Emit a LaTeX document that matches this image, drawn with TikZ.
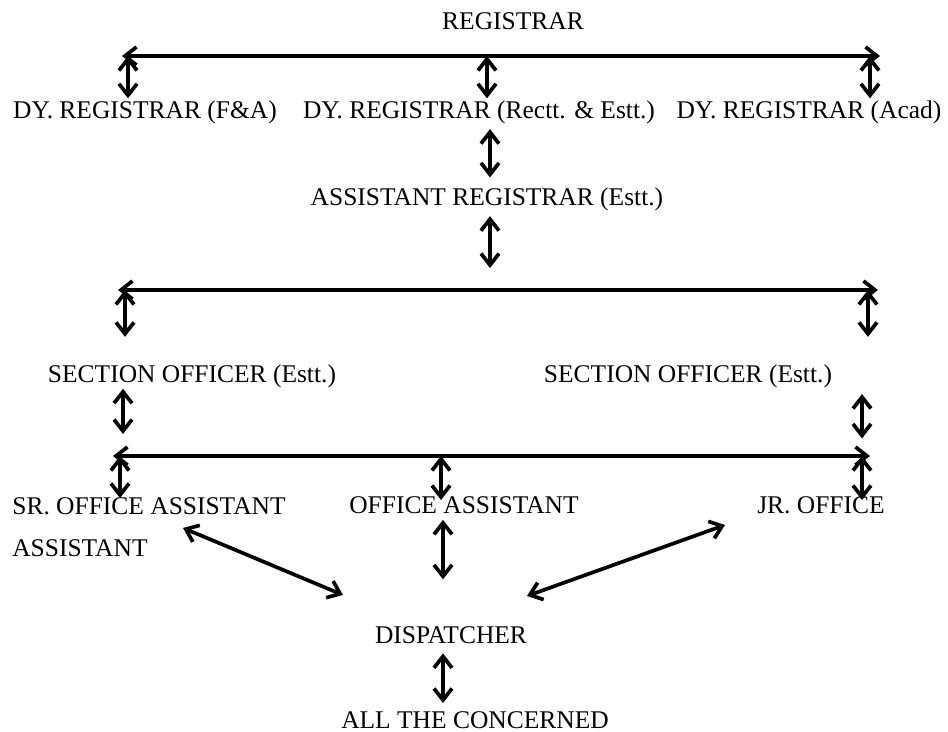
\documentclass[tikz,border=0pt]{standalone}
\usepackage{fontspec}
\setmainfont{Liberation Serif}
\usetikzlibrary{arrows.meta}

\begin{document}
\begin{tikzpicture}[x=0.02cm,y=-0.02cm,font=\fontsize{14.5}{17}\selectfont,
  t/.style={inner sep=0pt,anchor=base},
  arr/.style={{Straight Barb[length=2.3mm,width=3.6mm]}-{Straight Barb[length=2.3mm,width=3.6mm]},line width=2.1pt}]
\useasboundingbox (0,0) rectangle (948,732);
% REGISTRAR AND DEPUTIES
\node[t] (reg) at (513,30) {REGISTRAR};
\coordinate (b1l) at (122,56); \coordinate (b1r) at (880,56);
\draw[arr](b1l)--(b1r);
\node[t] (dy1) at (145,119) {DY. REGISTRAR (F\&A)};
\node[t] (dy2) at (479,119) {DY. REGISTRAR (Rectt. \& Estt.)};
\node[t] (dy3) at (809,119) {DY. REGISTRAR (Acad)};
\draw[arr,shorten >=1.5pt](128,0 |- b1l)--(128,0 |- dy1.north);
\draw[arr,shorten >=1.5pt](487,0 |- b1l)--(487,0 |- dy2.north);
\draw[arr,shorten >=1.5pt](870,0 |- b1l)--(870,0 |- dy3.north);
\node[t] (asst) at (487,206) {ASSISTANT REGISTRAR (Estt.)};
\draw[arr,shorten <=2.5pt,shorten >=6pt](490,0 |- dy2.south)--(490,0 |- asst.north);
% SECTION OFFICERS
\coordinate (b2l) at (118,290); \coordinate (b2r) at (878,290);
\draw[arr](b2l)--(b2r);
\draw[arr,shorten <=2.5pt,shorten >=12.5pt](490,0 |- asst.south)--(490,0 |- b2l);
\node[t] (sec1) at (192,383) {SECTION OFFICER (Estt.)};
\node[t] (sec2) at (688,383) {SECTION OFFICER (Estt.)};
\draw[arr,shorten >=16pt](125,0 |- b2l)--(125,0 |- sec1.north);
\draw[arr,shorten >=16pt](868,0 |- b2l)--(868,0 |- sec2.north);
% ASSISTANTS
\coordinate (b3l) at (113,456); \coordinate (b3r) at (870,456);
\draw[arr](b3l)--(b3r);
\draw[arr,shorten >=12.5pt](123,0 |- sec1.south)--(123,0 |- b3l);
\draw[arr,shorten <=3pt,shorten >=10pt](862,0 |- sec2.south)--(862,0 |- b3l);
\node[inner sep=0pt,anchor=north west,align=left,font=\fontsize{14.5}{23.9}\selectfont] (sro) at (12,497) {SR. OFFICE ASSISTANT\\ASSISTANT};
\node[t] (oa) at (464,514) {OFFICE ASSISTANT};
\node[t] (jr) at (821,514) {JR. OFFICE};
\draw[arr](120,0 |- b3l)--(120,498);
\draw[arr](441,0 |- b3l)--(441,500);
\draw[arr](862,0 |- b3l)--(862,500);
% DISPATCH
\node[t] (disp) at (451,644) {DISPATCHER};
\node[t] (all) at (475,729) {ALL THE CONCERNED};
\coordinate (d1a) at (183,528); \coordinate (d1b) at (343,595);
\coordinate (d2a) at (725,525); \coordinate (d2b) at (527,596);
\draw[arr](d1a)--(d1b);
\draw[arr](d2a)--(d2b);
\draw[arr,shorten <=3pt,shorten >=27pt](443,0 |- oa.south)--(443,0 |- disp.north);
\draw[arr,shorten <=5pt,shorten >=5pt](443,0 |- disp.south)--(443,0 |- all.north);
\end{tikzpicture}
\end{document}
